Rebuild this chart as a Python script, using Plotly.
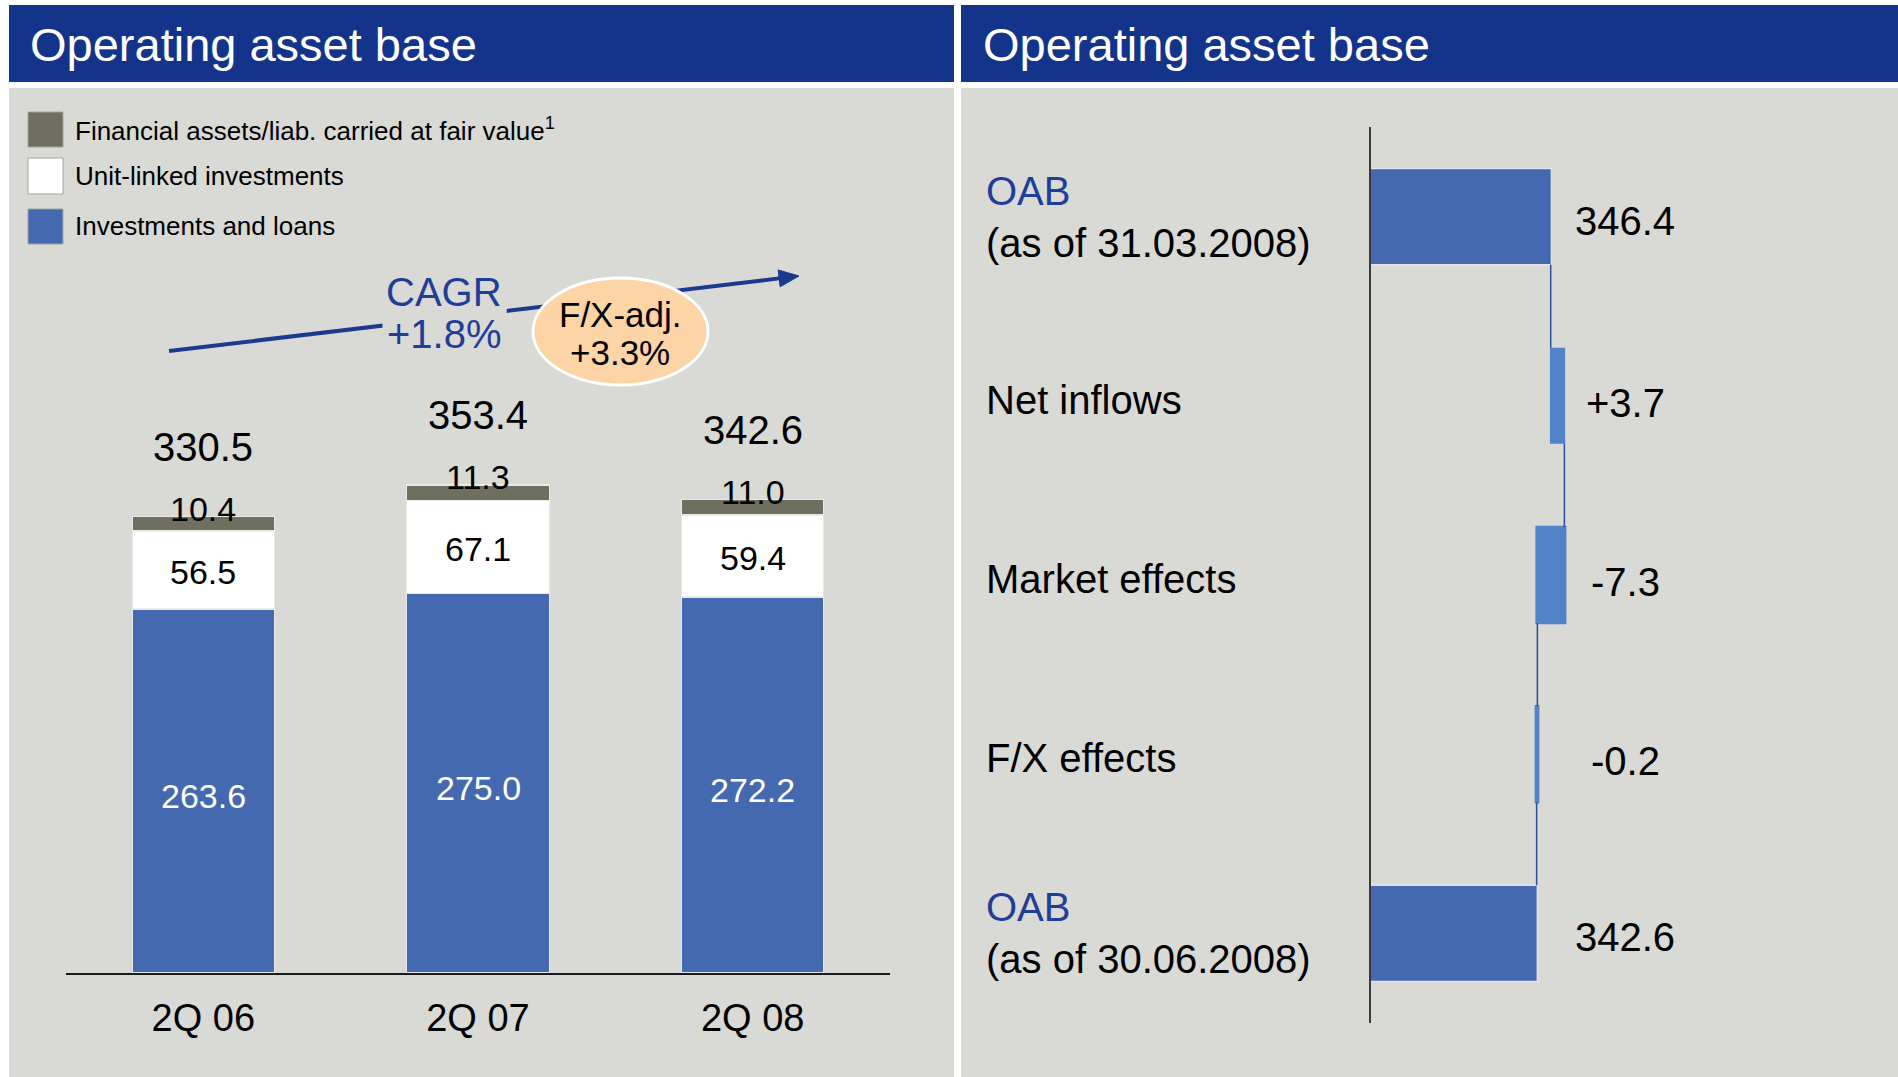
import plotly.graph_objects as go

# ---------------- data ----------------
categories = ["2Q 06", "2Q 07", "2Q 08"]
investments_loans = [263.6, 275.0, 272.2]
unit_linked = [56.5, 67.1, 59.4]
fair_value = [10.4, 11.3, 11.0]
totals = [330.5, 353.4, 342.6]

legend_labels = ["Financial assets/liab. carried at fair value<sup>1</sup>",
                 "Unit-linked investments",
                 "Investments and loans"]

wf_categories = ["OAB (as of 31.03.2008)", "Net inflows", "Market effects",
                 "F/X effects", "OAB (as of 30.06.2008)"]
wf_measures = ["absolute", "relative", "relative", "relative", "total"]
wf_values = [346.4, 3.7, -7.3, -0.2, 342.6]
wf_text = ["346.4", "+3.7", "-7.3", "-0.2", "342.6"]

cagr_text = ["CAGR", "+1.8%"]
fx_text = ["F/X-adj.", "+3.3%"]
title_text = "Operating asset base"

# ---------------- styles ----------------
W, H = 1898, 1077
FONT = "Liberation Sans, Arial, Helvetica, sans-serif"
HEADER = "#13348A"
PANEL = "#D9D9D5"
BLUE = "#4469B1"
LIGHT_BLUE = "#5282C7"
DARK_SEG = "#6E6F5E"
NAVY = "#1B3A8E"
TEXT_BLUE = "#1F3E9A"
PEACH = "#FDD4A6"


def px(x):
    return x / W


def py(y):
    return 1 - y / H


fig = go.Figure()

# stacked bars (left)
seg_line = dict(color="#E9E9E6", width=1.2)
fig.add_trace(go.Bar(x=categories, y=investments_loans, marker=dict(color=BLUE, line=seg_line),
                     hoverinfo="skip", showlegend=False, xaxis="x", yaxis="y"))
fig.add_trace(go.Bar(x=categories, y=unit_linked, marker=dict(color="#FFFFFF", line=seg_line),
                     hoverinfo="skip", showlegend=False, xaxis="x", yaxis="y"))
fig.add_trace(go.Bar(x=categories, y=fair_value, marker=dict(color=DARK_SEG, line=seg_line),
                     hoverinfo="skip", showlegend=False, xaxis="x", yaxis="y"))

# waterfall (right)
fig.add_trace(go.Waterfall(
    orientation="h", y=wf_categories, x=wf_values, measure=wf_measures,
    base=0, textinfo="none", hoverinfo="skip", showlegend=False,
    increasing=dict(marker=dict(color=LIGHT_BLUE, line=dict(color=LIGHT_BLUE, width=0))),
    decreasing=dict(marker=dict(color=LIGHT_BLUE, line=dict(color=LIGHT_BLUE, width=2.5))),
    totals=dict(marker=dict(color=BLUE, line=dict(color="#E3E4E8", width=1.5))),
    connector=dict(line=dict(color="#2A4BA0", width=1.5)),
    xaxis="x2", yaxis="y2"))

shapes = []
annotations = []

# panels and headers
for x0, x1 in [(9, 954), (961, 1898)]:
    shapes.append(dict(type="rect", xref="paper", yref="paper", x0=px(x0), x1=px(x1),
                       y0=py(82), y1=py(5), fillcolor=HEADER, line=dict(width=0), layer="below"))
    shapes.append(dict(type="rect", xref="paper", yref="paper", x0=px(x0), x1=px(x1),
                       y0=py(1077), y1=py(88), fillcolor=PANEL, line=dict(width=0), layer="below"))
for xl in [28, 981]:
    annotations.append(dict(text=title_text, xref="paper", yref="paper", x=px(xl), y=py(44),
                            xanchor="left", yanchor="middle", showarrow=False,
                            font=dict(family=FONT, size=47, color="white")))

# legend (custom large swatches)
legend_colors = [DARK_SEG, "#FFFFFF", BLUE]
legend_rows = [(112, 147), (158, 194), (209, 244)]
for lab, col, (y0, y1) in zip(legend_labels, legend_colors, legend_rows):
    shapes.append(dict(type="rect", xref="paper", yref="paper", x0=px(28), x1=px(63),
                       y0=py(y1), y1=py(y0), fillcolor=col, line=dict(color="#A3A3A0", width=1)))
    annotations.append(dict(text=lab, xref="paper", yref="paper", x=px(73), y=py((y0 + y1) / 2),
                            xanchor="left", yanchor="middle", showarrow=False,
                            font=dict(family=FONT, size=26, color="black")))

# CAGR arrow
x_start, y_start, x_tip, y_tip = 169, 351, 799, 276
dx, dy = x_tip - x_start, y_tip - y_start
L = (dx * dx + dy * dy) ** 0.5
ux, uy = dx / L, dy / L
head_len, head_half = 20, 8.5
bx, by = x_tip - head_len * ux, y_tip - head_len * uy
shapes.append(dict(type="line", xref="paper", yref="paper", x0=px(x_start), y0=py(y_start),
                   x1=px(bx + 2 * ux), y1=py(by + 2 * uy), line=dict(color=NAVY, width=4)))
p1 = (bx - uy * head_half, by + ux * head_half)
p2 = (bx + uy * head_half, by - ux * head_half)
shapes.append(dict(type="path", xref="paper", yref="paper",
                   path=f"M {px(x_tip)} {py(y_tip)} L {px(p1[0])} {py(p1[1])} L {px(p2[0])} {py(p2[1])} Z",
                   fillcolor=NAVY, line=dict(color=NAVY, width=1)))
# ellipse
shapes.append(dict(type="circle", xref="paper", yref="paper", x0=px(533), x1=px(708),
                   y0=py(385), y1=py(278), fillcolor=PEACH, line=dict(color="white", width=3)))

for t, yc in zip(cagr_text, [292, 334]):
    annotations.append(dict(text=t, xref="paper", yref="paper", x=px(444), y=py(yc),
                            xanchor="center", yanchor="middle", showarrow=False,
                            bgcolor=PANEL, borderpad=4,
                            font=dict(family=FONT, size=40, color=TEXT_BLUE)))
for t, yc in zip(fx_text, [314, 352]):
    annotations.append(dict(text=t, xref="paper", yref="paper", x=px(620), y=py(yc),
                            xanchor="center", yanchor="middle", showarrow=False,
                            font=dict(family=FONT, size=35, color="black")))

# bar labels
for c, inv, ul, fv, tot in zip(categories, investments_loans, unit_linked, fair_value, totals):
    annotations.append(dict(text=f"{tot:.1f}", x=c, y=inv + ul + fv, xref="x", yref="y",
                            yanchor="middle", yshift=70, showarrow=False,
                            font=dict(family=FONT, size=40, color="black")))
    annotations.append(dict(text=f"{fv:.1f}", x=c, y=inv + ul + fv, xref="x", yref="y",
                            yanchor="middle", yshift=8, showarrow=False,
                            font=dict(family=FONT, size=34, color="black")))
    annotations.append(dict(text=f"{ul:.1f}", x=c, y=inv + ul / 2, xref="x", yref="y",
                            yanchor="middle", yshift=-2, showarrow=False,
                            font=dict(family=FONT, size=34, color="black")))
    annotations.append(dict(text=f"{inv:.1f}", x=c, y=inv / 2, xref="x", yref="y",
                            yanchor="middle", yshift=-5, showarrow=False,
                            font=dict(family=FONT, size=34, color="white")))

# waterfall labels
for cat, txt in zip(wf_categories, wf_text):
    if cat.startswith("OAB"):
        head, rest = cat.split(" ", 1)
        disp = f"<span style='color:{TEXT_BLUE}'>{head}</span><br>{rest}"
        shift_l, shift_v = 0, -4
    else:
        disp = cat
        shift_l, shift_v = -4, -7
    annotations.append(dict(text=disp, xref="paper", yref="y2", x=px(984), y=cat,
                            xanchor="left", yanchor="middle", align="left", yshift=shift_l,
                            showarrow=False, font=dict(family=FONT, size=40, color="black")))
    annotations.append(dict(text=txt, xref="paper", yref="y2", x=px(1625), y=cat,
                            xanchor="center", yanchor="middle", yshift=shift_v, showarrow=False,
                            font=dict(family=FONT, size=40, color="black")))

px_per_unit_left = 1.381
wf_px_per_unit = 3.7
wf_left = 297.7

fig.update_layout(
    width=W, height=H, margin=dict(l=0, r=0, t=0, b=0),
    paper_bgcolor="white", plot_bgcolor="rgba(0,0,0,0)",
    barmode="stack", bargap=0.482, waterfallgap=0.464,
    font=dict(family=FONT),
    shapes=shapes, annotations=annotations,
    xaxis=dict(domain=[px(66), px(890)], anchor="y", showline=True, linecolor="#1a1a1a",
               linewidth=1.5, ticks="", showgrid=False, zeroline=False,
               tickfont=dict(family=FONT, size=38, color="black"), ticklabelstandoff=11,
               fixedrange=True),
    yaxis=dict(domain=[py(973), py(88)], range=[0, (973 - 88) / px_per_unit_left],
               visible=False, fixedrange=True),
    xaxis2=dict(domain=[px(1370.5), px(1898)], anchor="y2",
                range=[wf_left, wf_left + (1898 - 1370.5) / wf_px_per_unit],
                visible=False, fixedrange=True),
    yaxis2=dict(domain=[py(1023), py(127)], anchor="x2", autorange="reversed",
                showline=True, linecolor="#3a3a3a", linewidth=1.5, showticklabels=False,
                ticks="", showgrid=False, zeroline=False, fixedrange=True),
)

fig.write_html("out.html", config={"displayModeBar": False},
               post_script="document.body.style.margin='0';")
